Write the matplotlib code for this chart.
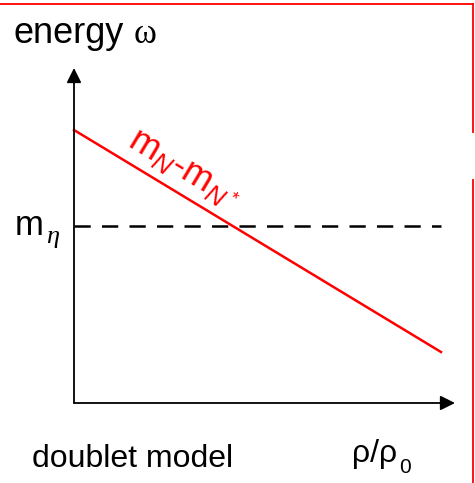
import matplotlib.pyplot as plt
from matplotlib.lines import Line2D

plt.rcParams['font.family'] = 'Liberation Sans'
plt.rcParams['mathtext.fontset'] = 'custom'
plt.rcParams['mathtext.rm'] = 'Liberation Sans'
plt.rcParams['mathtext.it'] = 'Liberation Sans:italic'

# schematic values (units ~ 100 px)
rho = [0.0, 3.67]
energy = [2.73, 0.51]
m_eta = 1.77
x_max = 3.81
y_max = 3.35

fig = plt.figure(figsize=(4.75, 4.83), dpi=100)
ax = fig.add_axes([0, 0, 1, 1])
ax.set_xlim(-0.74, 4.01)
ax.set_ylim(-0.80, 4.03)
ax.axis('off')

# axes with arrows
ax.annotate('', xy=(x_max, 0), xytext=(0, 0),
            arrowprops=dict(arrowstyle='-|>', color='k', lw=1.3,
                            mutation_scale=22, shrinkA=0, shrinkB=0))
ax.annotate('', xy=(0, y_max), xytext=(0, 0),
            arrowprops=dict(arrowstyle='-|>', color='k', lw=1.3,
                            mutation_scale=22, shrinkA=0, shrinkB=0))

# m_eta threshold
ax.plot([0, rho[1]], [m_eta, m_eta], color='k', lw=1.8, ls=(0, (6.5, 4.5)))
# m_N - m_N*
ax.plot(rho, energy, color='red', lw=1.8)

ax.text(1.10, 2.34, r'm$_{\mathit{N}}$-m$_{\mathit{N}^*}$', color='red',
        fontsize=26, rotation=-31, ha='center', va='center',
        rotation_mode='anchor')

ax.text(-0.60, 3.60, 'energy', fontsize=26, ha='left', va='baseline')
ax.text(0.60, 3.60, 'ω', fontsize=25, family='Liberation Serif',
        ha='left', va='baseline')
ax.text(-0.59, 1.68, 'm', fontsize=25, ha='left', va='baseline')
ax.text(-0.28, 1.60, 'η', fontsize=19, family='Liberation Serif',
        style='italic', ha='left', va='baseline')

ax.text(-0.42, -0.64, 'doublet model', fontsize=23, ha='left', va='baseline')
ax.text(2.78, -0.59, 'ρ/ρ', fontsize=23, ha='left', va='baseline')
ax.text(3.25, -0.70, '0', fontsize=15, ha='left', va='baseline')

# red frame
fig.add_artist(Line2D([0, 473 / 475], [1 - 4 / 483, 1 - 4 / 483],
                      color='red', lw=1.3, transform=fig.transFigure))
fig.add_artist(Line2D([473 / 475, 473 / 475], [1 - 4 / 483, 1 - 132 / 483],
                      color='red', lw=1.3, transform=fig.transFigure))
fig.add_artist(Line2D([473 / 475, 473 / 475], [1 - 180 / 483, 0],
                      color='red', lw=1.3, transform=fig.transFigure))

fig.savefig('out.png', dpi=100)
